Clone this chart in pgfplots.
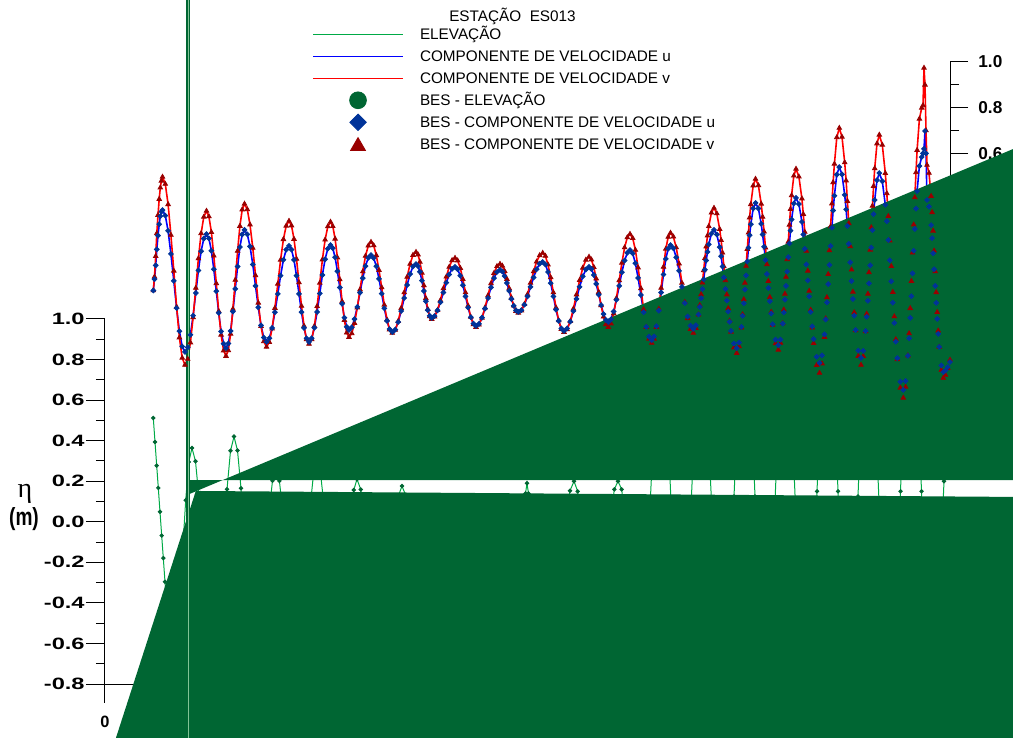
\documentclass[border=0pt]{standalone}
\usepackage{graphicx}
\usepackage{fontspec}
\setmainfont{Liberation Sans}
\newfontfamily\serifgreek{Liberation Serif}
\usepackage{pgfplots}
\usepackage{pgfplotstable}
\pgfplotsset{compat=1.18}

\definecolor{elevline}{RGB}{0,170,70}
\definecolor{elevdark}{RGB}{0,102,51}
\definecolor{ublue}{RGB}{0,0,255}
\definecolor{udark}{RGB}{0,51,153}
\definecolor{vred}{RGB}{255,0,0}
\definecolor{vdark}{RGB}{153,0,0}
\definecolor{paleline}{RGB}{130,195,150}

% velocity components u and v (m/s), time index t
\pgfplotstableread{
t u v
48.3 0.000 0.000
49.5 0.050 0.060
50.7 0.110 0.150
51.8 0.180 0.250
53.0 0.240 0.330
54.2 0.290 0.400
55.3 0.325 0.450
56.4 0.345 0.480
57.5 0.352 0.497
60.3 0.328 0.466
63.1 0.261 0.377
65.9 0.160 0.243
68.8 0.042 0.086
71.6 -0.077 -0.072
74.4 -0.178 -0.206
77.2 -0.245 -0.295
80.0 -0.269 -0.326
82.7 -0.249 -0.300
85.4 -0.194 -0.228
88.1 -0.110 -0.118
90.8 -0.011 0.011
93.4 0.088 0.140
96.1 0.172 0.250
98.8 0.227 0.322
101.5 0.247 0.348
103.9 0.228 0.324
106.4 0.174 0.255
108.8 0.093 0.152
111.3 -0.003 0.031
113.7 -0.098 -0.091
116.1 -0.179 -0.194
118.6 -0.233 -0.263
121.0 -0.252 -0.287
123.3 -0.232 -0.262
125.6 -0.177 -0.190
127.9 -0.092 -0.081
130.3 0.007 0.046
132.6 0.105 0.173
134.9 0.190 0.282
137.2 0.245 0.354
139.5 0.265 0.379
142.3 0.246 0.355
145.0 0.193 0.288
147.8 0.114 0.186
150.5 0.020 0.066
153.3 -0.074 -0.054
156.0 -0.153 -0.156
158.8 -0.206 -0.223
161.5 -0.225 -0.247
164.3 -0.209 -0.226
167.1 -0.164 -0.167
169.9 -0.095 -0.077
172.8 -0.015 0.029
175.6 0.065 0.134
178.4 0.134 0.224
181.2 0.179 0.283
184.0 0.195 0.304
186.5 0.179 0.284
189.0 0.134 0.225
191.5 0.065 0.138
194.0 -0.015 0.035
196.5 -0.095 -0.068
199.0 -0.164 -0.155
201.5 -0.209 -0.214
204.0 -0.225 -0.234
206.7 -0.209 -0.214
209.4 -0.163 -0.156
212.1 -0.094 -0.069
214.8 -0.013 0.033
217.4 0.068 0.135
220.1 0.137 0.222
222.8 0.183 0.280
225.5 0.199 0.300
227.8 0.185 0.281
230.1 0.145 0.226
232.4 0.084 0.144
234.8 0.013 0.048
237.1 -0.058 -0.048
239.4 -0.119 -0.130
241.7 -0.159 -0.185
244.0 -0.173 -0.204
246.8 -0.161 -0.188
249.5 -0.125 -0.143
252.3 -0.072 -0.075
255.0 -0.009 0.004
257.8 0.054 0.083
260.5 0.107 0.151
263.3 0.143 0.196
266.0 0.155 0.212
268.7 0.142 0.197
271.3 0.106 0.154
274.0 0.051 0.089
276.7 -0.014 0.013
279.3 -0.078 -0.063
282.0 -0.133 -0.128
284.6 -0.169 -0.171
287.3 -0.182 -0.186
290.3 -0.171 -0.173
293.2 -0.138 -0.134
296.2 -0.090 -0.077
299.2 -0.033 -0.009
302.1 0.024 0.059
305.1 0.072 0.116
308.0 0.105 0.155
311.0 0.116 0.168
313.0 0.107 0.157
314.9 0.082 0.125
316.9 0.043 0.077
318.9 -0.002 0.022
320.8 -0.047 -0.034
322.8 -0.086 -0.082
324.7 -0.111 -0.114
326.7 -0.120 -0.125
329.6 -0.112 -0.115
332.5 -0.087 -0.086
335.4 -0.051 -0.043
338.4 -0.009 0.009
341.3 0.034 0.060
344.2 0.070 0.103
347.1 0.095 0.132
350.0 0.103 0.142
352.6 0.093 0.131
355.3 0.065 0.098
357.9 0.023 0.049
360.5 -0.026 -0.009
363.1 -0.075 -0.067
365.8 -0.117 -0.116
368.4 -0.145 -0.149
371.0 -0.155 -0.160
374.0 -0.146 -0.150
377.0 -0.119 -0.120
380.0 -0.079 -0.075
383.0 -0.033 -0.022
386.0 0.014 0.031
389.0 0.054 0.076
392.0 0.081 0.106
395.0 0.090 0.116
397.3 0.083 0.108
399.6 0.063 0.085
401.9 0.033 0.050
404.2 -0.002 0.009
406.4 -0.037 -0.032
408.7 -0.067 -0.067
411.0 -0.087 -0.090
413.3 -0.094 -0.098
416.4 -0.086 -0.088
419.4 -0.062 -0.060
422.5 -0.026 -0.017
425.5 0.016 0.033
428.6 0.057 0.083
431.6 0.093 0.126
434.7 0.117 0.154
437.7 0.125 0.164
440.4 0.114 0.151
443.0 0.081 0.113
445.7 0.032 0.057
448.4 -0.026 -0.009
451.0 -0.084 -0.075
453.7 -0.133 -0.131
456.3 -0.166 -0.169
459.0 -0.177 -0.182
462.1 -0.166 -0.170
465.3 -0.136 -0.134
468.4 -0.090 -0.080
471.5 -0.037 -0.018
474.6 0.016 0.045
477.8 0.062 0.099
480.9 0.092 0.134
484.0 0.103 0.147
486.4 0.094 0.135
488.8 0.068 0.102
491.2 0.029 0.052
493.7 -0.018 -0.007
496.1 -0.064 -0.065
498.5 -0.103 -0.115
500.9 -0.129 -0.148
503.3 -0.138 -0.160
506.0 -0.126 -0.145
508.7 -0.092 -0.101
511.4 -0.041 -0.034
514.2 0.020 0.044
516.9 0.080 0.121
519.6 0.131 0.188
522.3 0.165 0.232
525.0 0.177 0.247
527.7 0.162 0.229
530.4 0.119 0.177
533.1 0.055 0.100
535.9 -0.020 0.009
538.6 -0.095 -0.083
541.3 -0.159 -0.160
544.0 -0.202 -0.212
546.7 -0.217 -0.230
549.1 -0.201 -0.212
551.4 -0.156 -0.160
553.8 -0.088 -0.081
556.1 -0.009 0.011
558.5 0.070 0.103
560.8 0.138 0.182
563.2 0.183 0.234
565.5 0.199 0.252
568.4 0.185 0.235
571.2 0.145 0.188
574.1 0.086 0.117
576.9 0.016 0.033
579.8 -0.055 -0.051
582.6 -0.114 -0.122
585.5 -0.154 -0.169
588.3 -0.168 -0.186
590.9 -0.152 -0.165
593.5 -0.105 -0.106
594.8 -0.072 -0.065
596.1 -0.034 -0.017
597.4 0.006 0.034
598.7 0.049 0.088
599.9 0.091 0.141
601.2 0.131 0.192
602.5 0.169 0.240
603.8 0.202 0.281
606.4 0.249 0.340
609.0 0.265 0.361
611.8 0.245 0.337
614.7 0.190 0.268
616.1 0.150 0.220
617.5 0.105 0.165
618.9 0.057 0.105
620.4 0.007 0.044
621.8 -0.044 -0.018
623.2 -0.092 -0.078
624.6 -0.137 -0.133
626.0 -0.177 -0.181
628.9 -0.232 -0.250
631.7 -0.252 -0.274
634.1 -0.228 -0.245
636.4 -0.159 -0.163
637.6 -0.111 -0.105
638.8 -0.056 -0.039
639.9 0.004 0.033
641.1 0.066 0.107
642.3 0.127 0.181
643.5 0.187 0.253
644.6 0.242 0.319
645.8 0.290 0.377
648.2 0.359 0.459
650.5 0.383 0.488
653.4 0.359 0.460
656.2 0.292 0.379
657.6 0.245 0.322
659.1 0.191 0.257
660.5 0.133 0.187
661.9 0.072 0.114
663.3 0.011 0.041
664.8 -0.047 -0.029
666.2 -0.101 -0.094
667.6 -0.148 -0.151
670.5 -0.215 -0.232
673.3 -0.239 -0.260
675.5 -0.215 -0.230
677.7 -0.145 -0.144
678.8 -0.096 -0.084
679.9 -0.040 -0.015
681.0 0.020 0.059
682.2 0.083 0.136
683.3 0.146 0.213
684.4 0.206 0.287
685.5 0.262 0.356
686.6 0.311 0.416
688.8 0.381 0.502
691.0 0.405 0.532
693.9 0.378 0.498
696.9 0.300 0.402
698.3 0.245 0.334
699.8 0.182 0.256
701.3 0.114 0.173
702.8 0.044 0.086
704.2 -0.026 -0.002
705.7 -0.094 -0.085
707.2 -0.157 -0.163
708.6 -0.212 -0.231
711.6 -0.290 -0.327
714.5 -0.317 -0.361
717.0 -0.284 -0.320
719.5 -0.192 -0.204
720.7 -0.127 -0.123
721.9 -0.052 -0.030
723.2 0.028 0.071
724.4 0.112 0.175
725.6 0.195 0.280
726.9 0.275 0.380
728.1 0.350 0.473
729.4 0.415 0.554
731.8 0.507 0.670
734.3 0.540 0.711
737.0 0.508 0.672
739.7 0.418 0.560
741.1 0.355 0.481
742.4 0.282 0.391
743.8 0.204 0.294
745.2 0.123 0.193
746.5 0.041 0.091
747.9 -0.037 -0.006
749.2 -0.110 -0.096
750.6 -0.173 -0.175
753.3 -0.263 -0.287
756.0 -0.295 -0.326
758.3 -0.264 -0.288
760.6 -0.177 -0.179
761.7 -0.115 -0.102
762.9 -0.045 -0.015
764.0 0.031 0.079
765.2 0.110 0.178
766.3 0.188 0.276
767.4 0.264 0.370
768.6 0.334 0.457
769.7 0.396 0.534
772.0 0.483 0.643
774.3 0.514 0.681
777.3 0.478 0.637
780.3 0.375 0.513
781.8 0.303 0.425
783.3 0.221 0.325
784.8 0.132 0.218
786.3 0.040 0.106
787.8 -0.053 -0.007
789.3 -0.142 -0.114
790.8 -0.224 -0.214
792.3 -0.296 -0.302
795.3 -0.399 -0.426
798.3 -0.435 -0.470
800.6 -0.396 -0.422
802.9 -0.286 -0.285
804.1 -0.209 -0.188
805.2 -0.120 -0.078
806.4 -0.025 0.041
807.5 0.075 0.165
808.7 0.174 0.288
809.8 0.269 0.407
811.0 0.358 0.517
812.1 0.435 0.614
814.4 0.545 0.751
816.7 0.584 0.799
818.0 0.600 0.810
819.0 0.620 0.974
820.0 0.698 0.900
821.0 0.600 0.700
822.0 0.396 0.549
824.0 0.367 0.514
826.1 0.286 0.413
827.1 0.229 0.342
828.1 0.163 0.261
829.1 0.093 0.174
830.2 0.020 0.083
831.2 -0.054 -0.008
832.2 -0.124 -0.095
833.2 -0.190 -0.176
834.2 -0.247 -0.247
836.3 -0.328 -0.348
838.3 -0.357 -0.383
840.5 -0.350 -0.370
842.7 -0.335 -0.340
845.0 -0.313 -0.304
}\velocity

% surface elevation eta (m), same time index
\pgfplotstableread{
t eta
48.3 0.512
50.0 0.394
51.7 0.277
53.3 0.167
55.0 0.049
56.7 -0.068
58.3 -0.179
60.0 -0.296
62.0 -0.430
64.0 -0.550
66.0 -0.630
68.0 -0.670
71.2 -0.601
74.3 -0.412
77.5 -0.153
80.7 0.106
83.8 0.295
87.0 0.364
90.5 0.298
94.0 0.118
97.5 -0.128
101.0 -0.374
104.5 -0.554
108.0 -0.620
111.5 -0.550
115.0 -0.360
118.5 -0.100
122.0 0.160
125.5 0.350
129.0 0.420
132.5 0.352
136.0 0.165
139.5 -0.090
143.0 -0.345
146.5 -0.532
150.0 -0.600
153.5 -0.542
157.0 -0.385
160.5 -0.170
164.0 0.045
167.5 0.202
171.0 0.260
174.4 0.202
177.8 0.045
181.3 -0.170
184.7 -0.385
188.1 -0.542
191.5 -0.600
194.9 -0.540
198.3 -0.375
201.8 -0.150
205.2 0.075
208.6 0.240
212.0 0.300
215.5 0.241
219.0 0.080
222.5 -0.140
226.0 -0.360
229.5 -0.521
233.0 -0.580
236.2 -0.527
239.3 -0.383
242.5 -0.185
245.7 0.013
248.8 0.157
252.0 0.210
255.8 0.159
259.7 0.020
263.5 -0.170
267.3 -0.360
271.2 -0.499
275.0 -0.550
278.7 -0.501
282.3 -0.369
286.0 -0.187
289.7 -0.006
293.3 0.127
297.0 0.176
300.7 0.131
304.3 0.007
308.0 -0.162
311.7 -0.331
315.3 -0.455
319.0 -0.500
322.5 -0.460
326.0 -0.350
329.5 -0.200
333.0 -0.050
336.5 0.060
340.0 0.100
343.5 0.060
347.0 -0.050
350.5 -0.200
354.0 -0.350
357.5 -0.460
361.0 -0.500
364.5 -0.460
368.0 -0.350
371.5 -0.200
375.0 -0.050
378.5 0.060
382.0 0.100
385.3 0.060
388.7 -0.050
392.0 -0.200
395.3 -0.350
398.7 -0.460
402.0 -0.500
405.3 -0.454
408.7 -0.330
412.0 -0.155
415.3 0.020
418.7 0.100
420.5 0.140
422.0 0.190
423.5 0.140
425.5 0.060
429.5 -0.100
433.5 -0.280
437.5 -0.420
441.5 -0.490
445.0 -0.500
449.0 -0.453
453.0 -0.325
457.0 -0.150
461.0 0.025
465.0 0.153
469.0 0.200
472.7 0.150
476.3 0.013
480.0 -0.175
483.7 -0.363
487.3 -0.500
491.0 -0.550
494.7 -0.500
498.3 -0.363
502.0 -0.175
505.7 0.013
509.3 0.160
513.0 0.200
516.7 0.160
520.3 0.000
524.0 -0.200
527.7 -0.400
531.3 -0.546
535.0 -0.600
538.5 -0.503
542.0 -0.238
545.5 0.125
549.0 0.488
552.5 0.753
556.0 0.850
559.3 0.750
562.7 0.475
566.0 0.100
569.3 -0.275
572.7 -0.550
576.0 -0.650
579.3 -0.553
582.7 -0.288
586.0 0.075
589.3 0.438
592.7 0.703
596.0 0.800
599.7 0.700
603.3 0.425
607.0 0.050
610.7 -0.325
614.3 -0.600
618.0 -0.700
621.7 -0.589
625.3 -0.288
629.0 0.125
632.7 0.538
636.3 0.839
640.0 0.950
643.3 0.839
646.7 0.538
650.0 0.125
653.3 -0.288
656.7 -0.589
660.0 -0.700
663.3 -0.593
666.7 -0.300
670.0 0.100
673.3 0.500
676.7 0.793
680.0 0.900
683.5 0.789
687.0 0.488
690.5 0.075
694.0 -0.338
697.5 -0.639
701.0 -0.750
704.7 -0.629
708.3 -0.300
712.0 0.150
715.7 0.600
719.3 0.929
723.0 1.050
726.3 0.929
729.7 0.600
733.0 0.150
736.3 -0.300
739.7 -0.629
743.0 -0.750
746.3 -0.633
749.7 -0.313
753.0 0.125
756.3 0.563
759.7 0.883
763.0 1.000
766.7 0.879
770.3 0.550
774.0 0.100
777.7 -0.350
781.3 -0.679
785.0 -0.800
788.5 -0.673
792.0 -0.325
795.5 0.150
799.0 0.625
802.5 0.973
806.0 1.100
809.5 0.973
813.0 0.625
816.5 0.150
820.0 -0.325
823.5 -0.673
827.0 -0.800
830.0 -0.720
833.0 -0.500
836.0 -0.150
839.0 0.200
842.0 0.450
845.0 0.550
}\elevation

\pgfplotsset{
  fullpage/.style={scale only axis, width=506.5pt, height=369pt,
    at={(0pt,0pt)}, anchor=south west, xmin=-105, xmax=908,
    hide axis, clip=true},
  scaleaxis/.style={scale only axis, width=10pt, xmin=0, xmax=1,
    axis x line=none, xtick=\empty,
    axis line style={-, black, line width=0.5pt},
    tick style={black, line width=0.5pt},
    /pgf/number format/assume math mode=true},
  % legend sample cell: 53.5pt wide, 11pt tall
  legendcell/.code={\pgfresetboundingbox\path[draw=none, fill=none, use as bounding box] (0pt,-3.8pt) rectangle (53.5pt,7.2pt);},
}

\begin{document}
\begin{tikzpicture}
% velocity scale (right)
\begin{axis}[scaleaxis, height=114.25pt,
  at={(475pt,223.75pt)}, anchor=south east,
  ymin=0, ymax=1, axis y line=right,
  y axis line style={-},
  tick align=outside,
  major tick length=9pt, minor tick length=4.5pt,
  ytick={0,0.2,0.4,0.6,0.8,1.0},
  minor ytick={0.1,0.3,0.5,0.7,0.9},
  yticklabel style={font=\fontsize{8.6}{10}\selectfont\bfseries, inner sep=0pt, xshift=5pt},
  yticklabel={\pgfmathprintnumber[fixed,fixed zerofill,precision=1]{\tick}},
]
\end{axis}
% elevation scale (left)
\begin{axis}[scaleaxis, height=192pt,
  at={(52.5pt,17.5pt)}, anchor=south west,
  ymin=-0.8935, ymax=1.0, axis y line=left,
  y axis line style={-},
  tick align=outside,
  major tick length=9.5pt, minor tick length=4.5pt,
  ytick={-0.8,-0.6,-0.4,-0.2,0,0.2,0.4,0.6,0.8,1.0},
  minor ytick={-0.7,-0.5,-0.3,-0.1,0.1,0.3,0.5,0.7,0.9},
  yticklabel style={font=\fontsize{8.2}{10}\selectfont\bfseries, inner sep=0pt, xshift=-0.5pt},
  yticklabel={\scalebox{1.44}[1]{\pgfmathprintnumber[fixed,fixed zerofill,precision=1]{\tick}}},
]
\end{axis}
% velocity curves
\begin{axis}[fullpage, ymin=-1.9584, ymax=1.2713]
\addplot[ublue, line width=0.8pt, no marks] table[x=t, y=u] {\velocity};
\addplot[vred, line width=0.8pt, no marks] table[x=t, y=v] {\velocity};
\end{axis}
% elevation curve and filled region
\begin{axis}[fullpage, ymin=-1.0661, ymax=2.5730]
\addplot[black, line width=0.5pt, no marks] coordinates {(-19,-0.8) (40,-0.8)};
\addplot[elevline, line width=0.5pt, no marks] table[x=t, y=eta] {\elevation};
\addplot[fill=elevdark, draw=none] coordinates {(82,0.132) (925,1.873) (925,0.206) (82,0.206)};
\addplot[fill=elevdark, draw=none] coordinates {(8.7,-1.1) (90.8,0.152) (925,0.122) (925,-1.1)};
\addplot[only marks, mark=*, mark size=0.9pt, color=elevdark] table[x=t, y=eta] {\elevation};
\node[anchor=base, font=\fontsize{7.65}{9}\selectfont] at (axis description cs:0.5059,0.9709) {ESTAÇÃO~~ES013};
\node[anchor=base, font=\serifgreek\fontsize{14}{14}\selectfont] at (axis description cs:0.0247,0.3252) {η};
\node[anchor=base, font=\fontsize{12.4}{13}\selectfont\bfseries] at (axis description cs:0.0237,0.2879) {\scalebox{0.77}[1]{(m)}};
\node[anchor=base, font=\fontsize{8.2}{10}\selectfont\bfseries] at (axis description cs:0.1037,0.01355) {0};
\end{axis}
% markers, legend and vertical line
\begin{axis}[fullpage, ymin=-1.9584, ymax=1.2713,
  legend style={at={(0.309,0.9656)}, anchor=north west, draw=none, fill=none,
    inner sep=0pt, outer sep=0pt, row sep=0pt, column sep=0pt,
    font=\fontsize{7.65}{9}\selectfont,
    cells={anchor=base west},
    nodes={inner sep=0pt, text height=7.2pt, text depth=3.8pt}},
]
\addplot[forget plot, only marks, mark=triangle*, mark size=1.3pt, color=vdark] table[x=t, y=v] {\velocity};
\addplot[forget plot, only marks, mark=square*, mark size=0.85pt, mark options={rotate=45}, color=udark] table[x=t, y=u] {\velocity};
\addplot[forget plot, elevdark, line width=1.75pt] coordinates {(83,-2.2) (83,1.5)};
\addplot[forget plot, paleline, line width=0.5pt] coordinates {(83,-2.2) (83,1.5)};
\addlegendimage{legend image code/.code={\draw[elevline, line width=0.6pt] (0pt,2.75pt) -- (45pt,2.75pt); \pgfkeys{/pgfplots/legendcell}}}
\addlegendentry{ELEVAÇÃO}
\addlegendimage{legend image code/.code={\draw[ublue, line width=0.6pt] (0pt,2.75pt) -- (45pt,2.75pt); \pgfkeys{/pgfplots/legendcell}}}
\addlegendentry{COMPONENTE DE VELOCIDADE u}
\addlegendimage{legend image code/.code={\draw[vred, line width=0.6pt] (0pt,2.75pt) -- (45pt,2.75pt); \pgfkeys{/pgfplots/legendcell}}}
\addlegendentry{COMPONENTE DE VELOCIDADE v}
\addlegendimage{legend image code/.code={\draw[color=elevdark] plot[only marks, mark=*, mark size=4.2pt] coordinates {(22.5pt,2.75pt)}; \pgfkeys{/pgfplots/legendcell}}}
\addlegendentry{BES - ELEVAÇÃO}
\addlegendimage{legend image code/.code={\draw[color=udark] plot[only marks, mark=square*, mark size=2.9pt, mark options={rotate=45}] coordinates {(22.5pt,2.75pt)}; \pgfkeys{/pgfplots/legendcell}}}
\addlegendentry{BES - COMPONENTE DE VELOCIDADE u}
\addlegendimage{legend image code/.code={\draw[color=vdark] plot[only marks, mark=triangle*, mark size=4.3pt] coordinates {(22.5pt,1.8pt)}; \pgfkeys{/pgfplots/legendcell}}}
\addlegendentry{BES - COMPONENTE DE VELOCIDADE v}
\end{axis}
\pgfresetboundingbox
\path[use as bounding box] (0pt,0pt) rectangle (506.5pt,369pt);
\end{tikzpicture}
\end{document}
